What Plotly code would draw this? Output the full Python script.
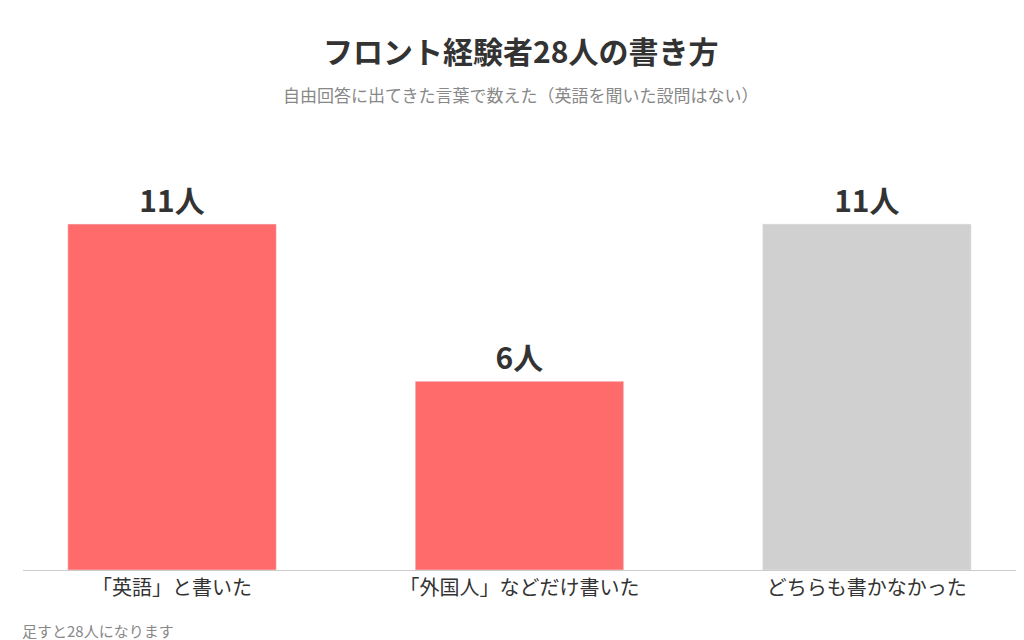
import plotly.graph_objects as go

categories = ["「英語」と書いた", "「外国人」などだけ書いた", "どちらも書かなかった"]
counts = [11, 6, 11]
labels = ["11人", "6人", "11人"]
colors = ["#FF6B6B", "#FF6B6B", "#D0D0D0"]

font = "Noto Sans CJK JP"

fig = go.Figure(go.Bar(
    x=categories, y=counts, marker_color=colors, width=0.6,
    text=labels, textposition="outside",
    textfont=dict(size=30, color="#333333", family=font, weight="bold"),
    cliponaxis=False,
))

fig.update_layout(
    width=1024, height=640,
    margin=dict(l=15, r=14, t=106, b=78, autoexpand=False),
    plot_bgcolor="white", paper_bgcolor="white",
    showlegend=False,
    font=dict(family=font, color="#333333"),
    annotations=[
        dict(text="<b>フロント経験者28人の書き方</b>", x=0.5, y=42, xref="paper", yref="paper",
             showarrow=False, font=dict(size=30, color="#333333")),
        dict(text="自由回答に出てきた言葉で数えた（英語を聞いた設問はない）", x=0.5, y=86,
             xref="paper", yref="paper", showarrow=False,
             font=dict(size=17, color="#888888")),
        dict(text="足すと28人になります", x=0, y=622, xref="paper", yref="paper",
             showarrow=False, xanchor="left", font=dict(size=15, color="#888888")),
    ],
)
# convert pixel y positions of annotations to paper coords
plot_top, plot_bottom = 106, 562
for a in fig.layout.annotations:
    a.y = (plot_bottom - a.y) / (plot_bottom - plot_top)
    a.yanchor = "middle"
fig.layout.annotations[2].x = -0.003

fig.update_yaxes(range=[0, 14.5], visible=False, automargin=False)
fig.update_xaxes(range=[-0.429, 2.435], automargin=False,
                 showline=True, linecolor="#CCCCCC", linewidth=1,
                 tickfont=dict(size=20, color="#333333"), ticks="")

fig.write_html("out.html")
